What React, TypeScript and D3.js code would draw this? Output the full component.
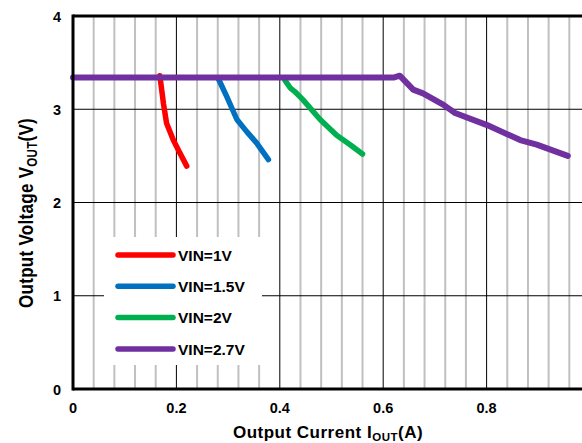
import React from 'react';
import * as d3 from 'd3';

// values (current in A, voltage in V)
const vin1 = [
  [0.168, 3.36], [0.175, 3.06], [0.181, 2.85], [0.194, 2.67], [0.204, 2.56], [0.22, 2.39],
];
const vin15 = [
  [0.281, 3.33], [0.297, 3.14], [0.317, 2.89], [0.336, 2.76], [0.355, 2.64], [0.378, 2.46],
];
const vin2 = [
  [0.41, 3.31], [0.42, 3.23], [0.429, 3.19], [0.445, 3.1], [0.478, 2.89], [0.51, 2.72], [0.536, 2.62], [0.56, 2.52],
];
const vin27 = [
  [0.0, 3.34], [0.62, 3.34], [0.632, 3.36], [0.658, 3.21], [0.677, 3.17], [0.716, 3.05], [0.739, 2.96],
  [0.801, 2.83], [0.865, 2.67], [0.897, 2.62], [0.957, 2.5],
];

const series = [
  { name: 'VIN=1V', color: '#ff0000', data: vin1, w: 5.5 },
  { name: 'VIN=1.5V', color: '#0070c0', data: vin15, w: 5.5 },
  { name: 'VIN=2V', color: '#00b050', data: vin2, w: 5.5 },
  { name: 'VIN=2.7V', color: '#7030a0', data: vin27, w: 6 },
];

const xTicks = [0, 0.2, 0.4, 0.6, 0.8];
const xMinor = d3.range(1, 25).map(i => i * 0.04).filter(v => Math.abs(v / 0.2 - Math.round(v / 0.2)) > 1e-6);
const yTicks = [0, 1, 2, 3, 4];

const font = 'Arial, "Liberation Sans", sans-serif';

export default function App() {
  const width = 582;
  const height = 443;
  const x = d3.scaleLinear().domain([0, 1]).range([73, 590]);
  const y = d3.scaleLinear().domain([0, 4]).range([389, 16]);
  const line = d3.line<number[]>().x(d => x(d[0])).y(d => y(d[1]));

  return (
    <svg width={width} height={height} style={{ position: 'absolute', left: 0, top: 0 }} fontFamily={font}>
      <rect width={width} height={height} fill="#fff" />
      {xMinor.map(v => (
        <line key={'m' + v} x1={x(v)} x2={x(v)} y1={y(4)} y2={y(0)} stroke="#c0c0c0" strokeWidth={2} />
      ))}
      {xTicks.slice(1).map(v => (
        <line key={'M' + v} x1={x(v)} x2={x(v)} y1={y(4)} y2={y(0)} stroke="#000" strokeWidth={1} />
      ))}
      {[1, 2, 3].map(v => (
        <line key={'h' + v} x1={x(0)} x2={width} y1={y(v)} y2={y(v)} stroke="#000" strokeWidth={1} />
      ))}
      {/* legend background */}
      <rect x={104} y={237} width={158} height={128} fill="#fff" />

      {series.map(s => (
        <path key={s.name} d={line(s.data) || ''} fill="none" stroke={s.color} strokeWidth={s.w}
          strokeLinejoin="round" strokeLinecap="round" />
      ))}

      {/* frame */}
      <line x1={x(0)} x2={x(0)} y1={y(4) - 1.5} y2={y(0) + 1.5} stroke="#000" strokeWidth={3} />
      <line x1={x(0)} x2={width} y1={y(4)} y2={y(4)} stroke="#000" strokeWidth={3} />
      <line x1={x(0)} x2={width} y1={y(0)} y2={y(0)} stroke="#000" strokeWidth={3} />

      {yTicks.map(v => (
        <text key={'yt' + v} x={61} y={y(v) + 5.5} textAnchor="end" fontSize={14.5} fontWeight="bold">{v}</text>
      ))}
      {xTicks.map(v => (
        <text key={'xt' + v} x={x(v)} y={413} textAnchor="middle" fontSize={14.5} fontWeight="bold">{v}</text>
      ))}

      {series.map((s, i) => (
        <g key={'lg' + s.name} transform={`translate(0,${255 + i * 31.3})`}>
          <line x1={118} x2={173} y1={0} y2={0} stroke={s.color} strokeWidth={5.5} strokeLinecap="round" />
          <text x={178} y={5.7} fontSize={15.5} fontWeight="bold">{s.name}</text>
        </g>
      ))}

      <text x={328} y={437.5} textAnchor="middle" fontSize={17} fontWeight="bold" letterSpacing={0.5}>
        Output Current I<tspan fontSize={11.5} dy={3.5}>OUT</tspan><tspan dy={-3.5}>(A)</tspan>
      </text>
      <text transform={`translate(33,213) rotate(-90) scale(1,1.2)`} textAnchor="middle" fontSize={17} fontWeight="bold" letterSpacing={0.3}>
        Output Voltage V<tspan fontSize={11.5} dy={3.5}>OUT</tspan><tspan dy={-3.5}>(V)</tspan>
      </text>
    </svg>
  );
}
